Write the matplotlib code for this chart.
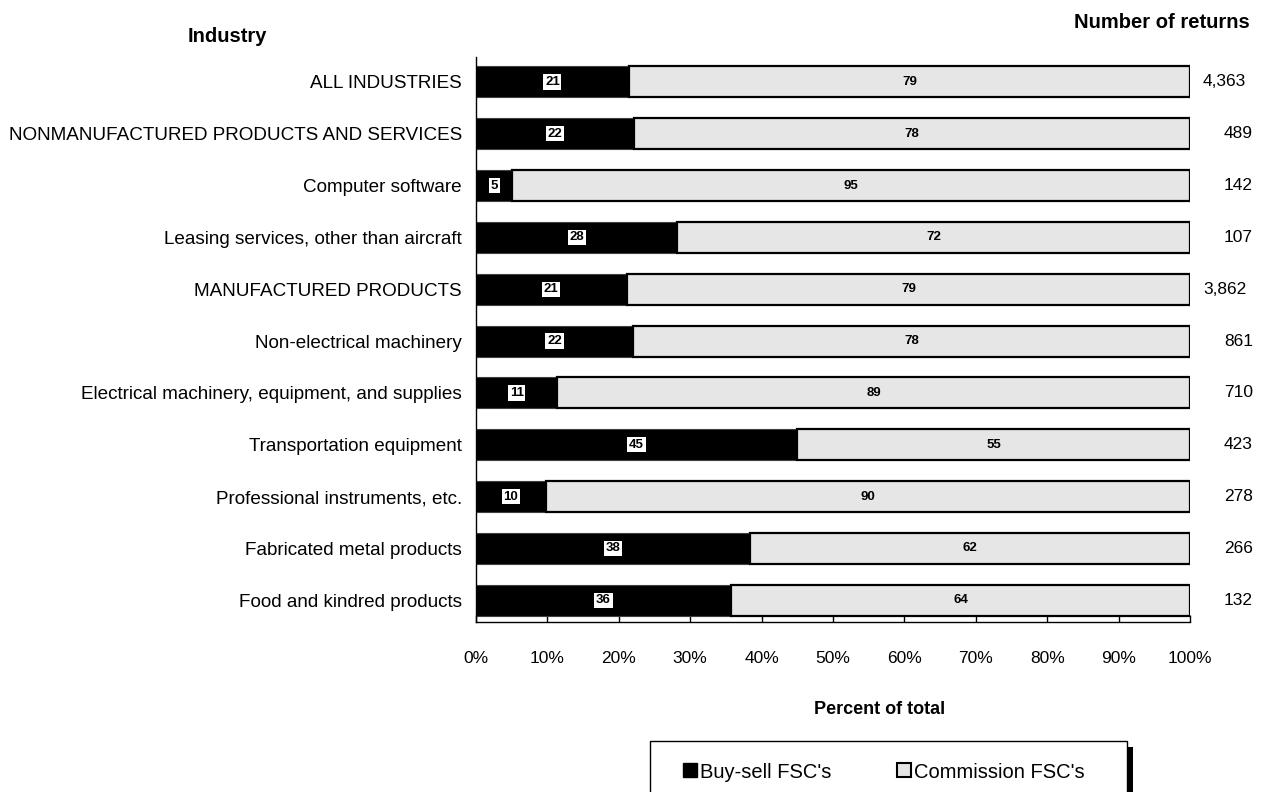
import matplotlib
matplotlib.use("Agg")
import matplotlib.pyplot as plt
from matplotlib.lines import Line2D
from matplotlib.patches import Rectangle

plt.rcParams['font.family'] = ['Liberation Sans', 'DejaVu Sans']

# data (top to bottom)
industries = [
    "ALL INDUSTRIES",
    "NONMANUFACTURED PRODUCTS AND SERVICES",
    "Computer software",
    "Leasing services, other than aircraft",
    "MANUFACTURED PRODUCTS",
    "Non-electrical machinery",
    "Electrical machinery, equipment, and supplies",
    "Transportation equipment",
    "Professional instruments, etc.",
    "Fabricated metal products",
    "Food and kindred products",
]
buy_sell = [21.4, 22.1, 5.1, 28.2, 21.1, 22.0, 11.4, 45.0, 9.8, 38.4, 35.7]
commission = [100 - v for v in buy_sell]
returns = ["4,363", "489", "142", "107", "3,862", "861", "710", "423", "278", "266", "132"]

W, H = 1263, 792
fig = plt.figure(figsize=(W / 100, H / 100), dpi=100)
ax = fig.add_axes([476 / W, 1 - 622 / H, (1190 - 476) / W, (622 - 57) / H])

y = [len(industries) - 1 - i for i in range(len(industries))]

ax.barh(y, buy_sell, height=0.6, color='black', edgecolor='#404040', linewidth=0.8, zorder=2)
ax.barh(y, commission, left=buy_sell, height=0.6, color='#e6e6e6', edgecolor='black',
        linewidth=1.6, zorder=2)

for yi, b, c, n in zip(y, buy_sell, commission, returns):
    ax.text(b / 2, yi, f"{round(b)}", ha='center', va='center', fontsize=9.5,
            fontweight='bold', color='black', zorder=4,
            bbox=dict(facecolor='white', edgecolor='none', pad=1.2))
    ax.text(b + c / 2, yi, f"{round(c)}", ha='center', va='center', fontsize=9.5,
            fontweight='bold', color='black', zorder=4)
    xpos = 1203 if len(n) > 3 else 1224
    ax.annotate(n, xy=((xpos - 476) / 714, yi), xycoords=('axes fraction', 'data'),
                ha='left', va='center', fontsize=12.5, annotation_clip=False)

ax.set_xlim(0, 100)
ax.set_ylim(-0.42, len(industries) - 1 + 0.48)
ax.set_xticks(range(0, 101, 10))
ax.set_xticklabels([f"{t}%" for t in range(0, 101, 10)], fontsize=12.5)
ax.set_yticks(y)
ax.set_yticklabels(industries, fontsize=13.6)
ax.tick_params(axis='x', direction='in', length=5, width=1, pad=21)
ax.tick_params(axis='y', length=0, pad=10)
for s in ['top', 'right']:
    ax.spines[s].set_visible(False)
for s in ['left', 'bottom']:
    ax.spines[s].set_color('black')
    ax.spines[s].set_linewidth(1)

fig.text(227 / W, 1 - 36 / H, "Industry", ha='center', va='center', fontsize=14.5,
         fontweight='bold')
fig.text(1250 / W, 1 - 22 / H, "Number of returns", ha='right', va='center',
         fontsize=14.5, fontweight='bold')
fig.text(880 / W, 1 - 710 / H, "Percent of total", ha='center', va='center',
         fontsize=13, fontweight='bold')

# legend box with a heavy right edge, cut by the bottom of the picture
box_top = 1 - 741 / H
fig.add_artist(Rectangle((1127 / W, -0.05), 6 / W, box_top + 0.05 - 6 / H,
                         facecolor='black', edgecolor='none', transform=fig.transFigure))
fig.add_artist(Rectangle((650 / W, -0.05), (1127 - 650) / W, box_top + 0.05,
                         facecolor='white', edgecolor='black', linewidth=1,
                         transform=fig.transFigure))
handles = [
    Line2D([], [], marker='s', linestyle='none', markersize=10,
           markerfacecolor='black', markeredgecolor='black'),
    Line2D([], [], marker='s', linestyle='none', markersize=10,
           markerfacecolor='#e6e6e6', markeredgecolor='black', markeredgewidth=1.5),
]
fig.legend(handles, ["Buy-sell FSC's", "Commission FSC's"], ncol=2, frameon=False,
           loc='center left', bbox_to_anchor=(672 / W, 1 - 772 / H), fontsize=14.5,
           handlelength=0.8, handletextpad=0.1, columnspacing=3.2, borderpad=0)

fig.savefig("out.png", dpi=100)
